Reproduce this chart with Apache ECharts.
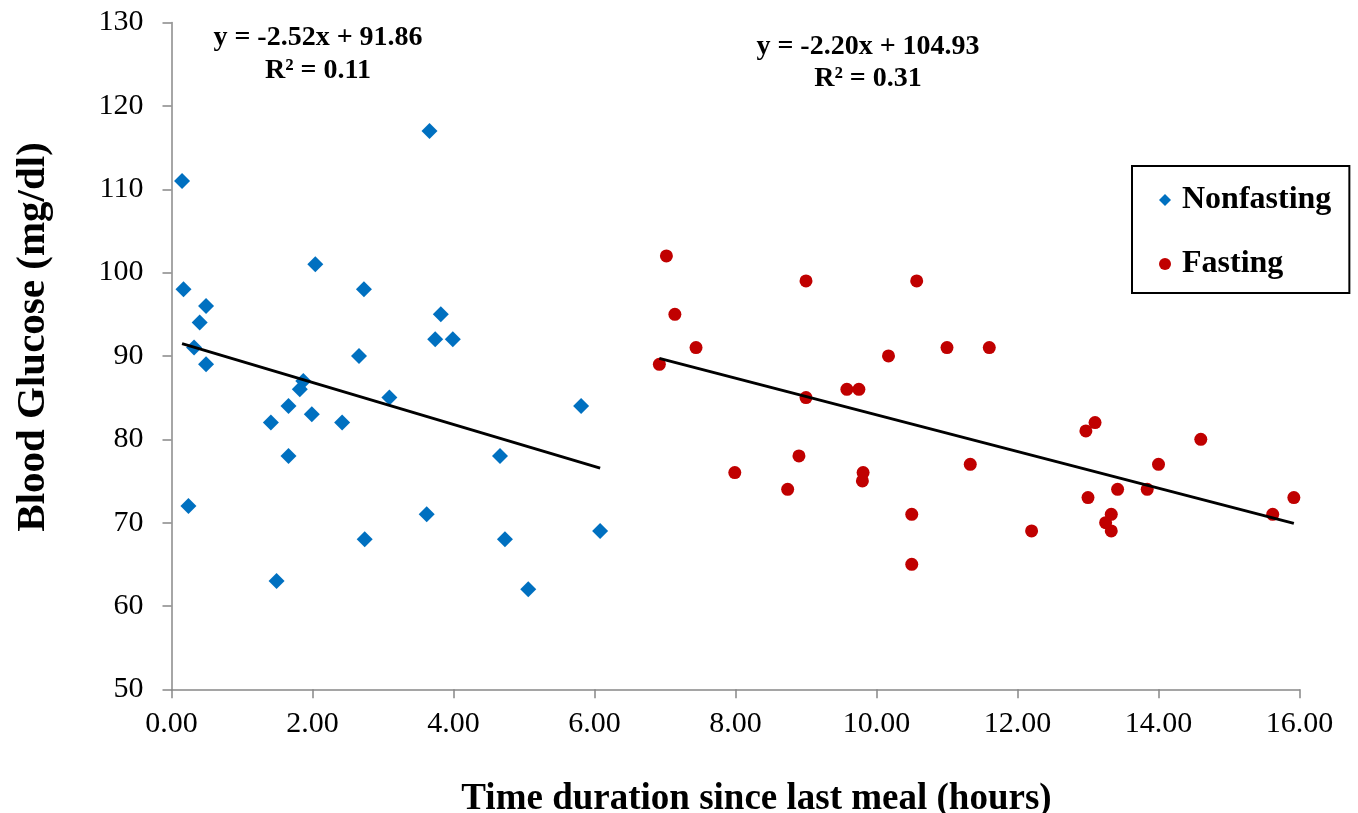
<!DOCTYPE html>
<html>
<head>
<meta charset="utf-8">
<script src="https://cdn.jsdelivr.net/npm/echarts@6/dist/echarts.min.js"></script>
<style>
  html, body { margin: 0; padding: 0; background: #fff; }
  #chart { width: 1358px; height: 813px; }
</style>
</head>
<body>
<div id="chart"></div>
<script>
// hours since last meal / blood glucose (mg/dl)
const nonfastingX = [0.15, 0.17, 0.49, 0.40, 0.32, 0.49, 0.24, 1.41, 1.66, 1.66, 1.49, 1.82, 1.87, 1.99, 2.04,
  2.42, 2.66, 2.73, 2.74, 3.09, 3.66, 3.62, 3.82, 3.74, 3.99, 4.66, 4.73, 5.06, 5.81, 6.08];
const nonfastingY = [111, 98, 96, 94, 91, 89, 72, 82, 84, 78, 63, 86, 87, 83, 101,
  82, 90, 98, 68, 85, 117, 71, 95, 92, 92, 78, 68, 62, 84, 69];

const fastingX = [6.92, 7.02, 7.14, 7.44, 7.99, 8.74, 8.90, 9.00, 9.00, 9.58, 9.75, 9.81, 9.80, 10.17, 10.50,
  10.50, 10.57, 11.00, 11.33, 11.60, 12.20, 12.97, 13.00, 13.10, 13.25, 13.33, 13.33, 13.42, 13.84, 14.00,
  14.60, 15.62, 15.92];
const fastingY = [89, 102, 95, 91, 76, 74, 78, 99, 85, 86, 86, 76, 75, 90, 71,
  65, 99, 91, 77, 91, 69, 81, 73, 82, 70, 71, 69, 74, 74, 77,
  80, 71, 73];

// linear fits: [slope, intercept, r2]
const nonfastingFit = [-2.52, 91.86, 0.11];
const fastingFit = [-2.20, 104.93, 0.31];

const seriesNames = ['Nonfasting', 'Fasting'];
const xTicks = [0, 2, 4, 6, 8, 10, 12, 14, 16];
const yTicks = [50, 60, 70, 80, 90, 100, 110, 120, 130];

const serif = '"Liberation Serif", "Times New Roman", serif';

function zip(xs, ys) { return xs.map((x, i) => [x, ys[i]]); }
function fitLine(xs, fit) {
  const lo = Math.min(...xs), hi = Math.max(...xs);
  return [[lo, fit[0] * lo + fit[1]], [hi, fit[0] * hi + fit[1]]];
}
function eqText(fit) {
  const b = fit[1] >= 0 ? ' + ' + fit[1].toFixed(2) : ' - ' + Math.abs(fit[1]).toFixed(2);
  return 'y = ' + fit[0].toFixed(2) + 'x' + b + '\nR\u00b2 = ' + fit[2].toFixed(2);
}

const chart = echarts.init(document.getElementById('chart'));
chart.setOption({
  animation: false,
  backgroundColor: '#fff',
  grid: { left: 171.5, right: 58.5, top: 22.6, bottom: 123.7, outerBoundsMode: 'none', containLabel: false },
  xAxis: {
    type: 'value',
    min: xTicks[0], max: xTicks[xTicks.length - 1], interval: 2,
    name: 'Time duration since last meal (hours)',
    nameLocation: 'middle', nameGap: 92,
    nameTextStyle: { fontFamily: serif, fontWeight: 'bold', fontSize: 37, color: '#000', padding: [0, 0, 0, 42] },
    axisLine: { lineStyle: { color: '#888', width: 1.5 } },
    axisTick: { show: true, length: 9, lineStyle: { color: '#888', width: 1.5 } },
    axisLabel: { fontFamily: serif, fontSize: 30, color: '#000', margin: 20,
      formatter: v => v.toFixed(2) },
    splitLine: { show: false }
  },
  yAxis: {
    type: 'value',
    min: yTicks[0], max: yTicks[yTicks.length - 1], interval: 10,
    name: 'Blood Glucose (mg/dl)',
    nameLocation: 'middle', nameGap: 118,
    nameTextStyle: { fontFamily: serif, fontWeight: 'bold', fontSize: 41, color: '#000', padding: [0, 0, 0, 38] },
    axisLine: { show: true, lineStyle: { color: '#888', width: 1.5 } },
    axisTick: { show: true, length: 9, lineStyle: { color: '#888', width: 1.5 } },
    axisLabel: { fontFamily: serif, fontSize: 30, color: '#000', margin: 28 },
    splitLine: { show: false }
  },
  legend: {
    data: seriesNames,
    orient: 'vertical',
    left: 1132, top: 166,
    padding: [18, 18, 13, 27],
    itemGap: 32,
    itemWidth: 12, itemHeight: 12,
    borderColor: '#000', borderWidth: 2,
    textStyle: { fontFamily: serif, fontWeight: 'bold', fontSize: 32, color: '#000', padding: [0, 0, 0, 6] }
  },
  graphic: [
    { type: 'text', x: 318, y: 21, style: { text: eqText(nonfastingFit), fontFamily: serif,
      fontWeight: 'bold', fontSize: 28, fill: '#000', textAlign: 'center', lineHeight: 33 } },
    { type: 'text', x: 868, y: 31, style: { text: eqText(fastingFit), fontFamily: serif,
      fontWeight: 'bold', fontSize: 28, fill: '#000', textAlign: 'center', lineHeight: 32 } }
  ],
  series: [
    {
      name: seriesNames[0], type: 'scatter', symbol: 'diamond', symbolSize: 16,
      itemStyle: { color: '#0070C0', opacity: 1 }, data: zip(nonfastingX, nonfastingY), z: 3
    },
    {
      name: seriesNames[1], type: 'scatter', symbol: 'circle', symbolSize: 13,
      itemStyle: { color: '#C00000', opacity: 1 }, data: zip(fastingX, fastingY), z: 3
    },
    {
      type: 'line', data: fitLine(nonfastingX, nonfastingFit), symbol: 'none', silent: true,
      lineStyle: { color: '#000', width: 3 }, z: 4
    },
    {
      type: 'line', data: fitLine(fastingX, fastingFit), symbol: 'none', silent: true,
      lineStyle: { color: '#000', width: 3 }, z: 4
    }
  ]
});
</script>
</body>
</html>
